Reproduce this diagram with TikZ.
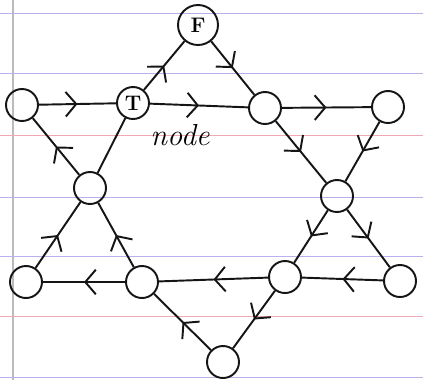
\documentclass[tikz,border=0pt]{standalone}
\usepackage{tikz}
\usetikzlibrary{arrows.meta,decorations.markings}
\definecolor{PaperLine}{HTML}{B9B0EC}
\definecolor{PaperRed}{HTML}{EFA8B4}
\definecolor{PaperMargin}{HTML}{BBBBBB}
\definecolor{InkBlack}{HTML}{151515}
\begin{document}
\begin{tikzpicture}[x=0.02cm,y=-0.02cm,
  vertex/.style={circle,draw=InkBlack,line width=1.1pt,minimum size=0.64cm,inner sep=0pt,font=\large\bfseries},
  edge/.style={draw=InkBlack,line width=1.1pt},
  midarrow/.style={edge,postaction={decorate},
    decoration={markings,mark=at position 0.5 with {\arrow[InkBlack,line width=1.1pt]{Straight Barb[length=6pt,width=14pt]}}}}]
\path[use as bounding box] (0,0) rectangle (423,380);
\draw[PaperMargin,line width=0.6pt] (13,0) -- (13,380);
\draw[PaperLine] (0,13) -- (423,13);
\draw[PaperLine] (0,73) -- (423,73);
\draw[PaperRed] (0,135) -- (423,135);
\draw[PaperLine] (0,197) -- (423,197);
\draw[PaperLine] (0,256) -- (423,256);
\draw[PaperRed] (0,316) -- (423,316);
\draw[PaperLine] (0,377) -- (423,377);
\node[vertex,minimum size=0.8cm] (apex) at (198,25) {F};
\node[vertex] (west) at (22,105) {};
\node[vertex] (tee) at (133,103) {T};
\node[vertex] (centre) at (265,108) {};
\node[vertex] (east) at (388,107) {};
\node[vertex] (innerw) at (90,188) {};
\node[vertex] (innere) at (337,196) {};
\node[vertex] (southw) at (26,282) {};
\node[vertex] (innersw) at (142,282) {};
\node[vertex] (innerse) at (285,277) {};
\node[vertex] (southe) at (400,281) {};
\node[vertex] (nadir) at (223,362) {};
\node[font=\itshape\LARGE] (note) at (180,135) {node};
\draw[midarrow] (west) -- (tee);
\draw[midarrow] (tee) -- (centre);
\draw[midarrow] (centre) -- (east);
\draw[midarrow] (tee) -- (apex);
\draw[midarrow] (apex) -- (centre);
\draw[midarrow] (centre) -- (innere);
\draw[midarrow] (east) -- (innere);
\draw[midarrow] (innere) -- (southe);
\draw[midarrow] (innere) -- (innerse);
\draw[midarrow] (southe) -- (innerse);
\draw[midarrow] (innerse) -- (innersw);
\draw[midarrow] (innersw) -- (southw);
\draw[midarrow] (innerse) -- (nadir);
\draw[midarrow] (nadir) -- (innersw);
\draw[midarrow] (innersw) -- (innerw);
\draw[midarrow] (southw) -- (innerw);
\draw[midarrow] (innerw) -- (west);
\draw[edge] (tee) -- (innerw);
\end{tikzpicture}
\end{document}
